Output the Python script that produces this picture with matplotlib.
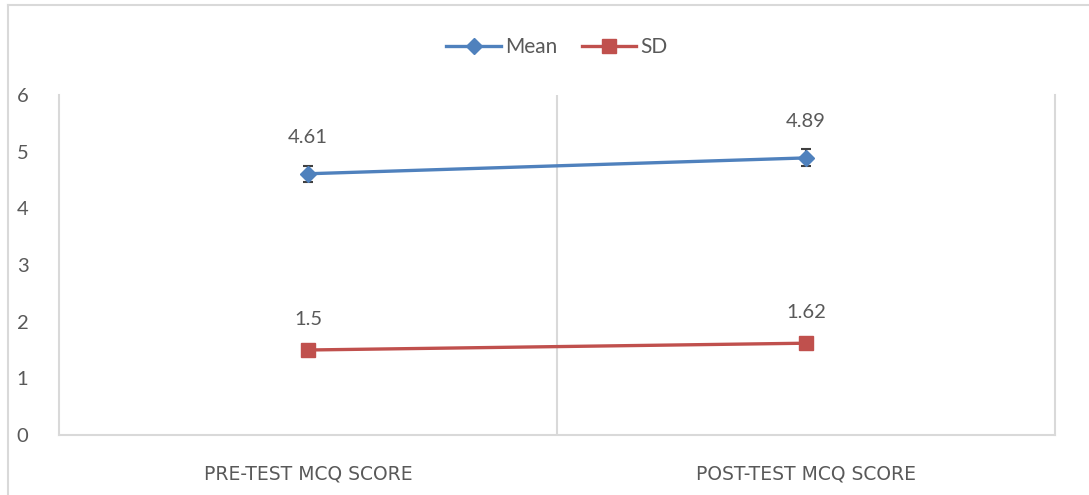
import numpy as np
import matplotlib
matplotlib.use("Agg")
import matplotlib.pyplot as plt
from matplotlib.lines import Line2D

# data
categories = ["PRE-TEST MCQ SCORE", "POST-TEST MCQ SCORE"]
mean_vals = [4.61, 4.89]
sd_vals = [1.5, 1.62]
mean_err = [0.14, 0.15]

plt.rcParams['font.family'] = ['Lato', 'DejaVu Sans']

fig = plt.figure(figsize=(10.89, 4.95), dpi=100)
ax = fig.add_axes([59/1089, 1-435/495, (1055-59)/1089, (435-95)/495])

x = np.arange(len(categories))
blue = "#4F81BD"
red = "#C0504D"
txt = "#595959"
grid = "#D9D9D9"

ax.plot(x, mean_vals, color=blue, linewidth=2.4, marker="D", markersize=8, label="Mean", zorder=3)
ax.errorbar(x, mean_vals, yerr=mean_err, fmt="none", ecolor="#404040", elinewidth=1.5, capsize=3.5, capthick=1.5, zorder=2)
ax.plot(x, sd_vals, color=red, linewidth=2.4, marker="s", markersize=10, label="SD", zorder=3)

# data labels
for xi, v in zip(x, mean_vals):
    ax.annotate("%g" % v, (xi, v), xytext=(0, 20), textcoords="offset points",
                ha="center", va="bottom", fontsize=14.5, color=txt)
for xi, v in zip(x, sd_vals):
    ax.annotate("%g" % v, (xi, v), xytext=(0, 16), textcoords="offset points",
                ha="center", va="bottom", fontsize=14.5, color=txt)

ax.set_xlim(-0.5, 1.5)
ax.set_ylim(0, 6)
ax.set_yticks(range(0, 7))
ax.set_xticks(x)
ax.set_xticklabels(categories, fontsize=13.5, color=txt, family="DejaVu Sans")
ax.tick_params(axis="y", length=0, pad=22, labelsize=14.5, labelcolor=txt)
ax.tick_params(axis="x", length=0, pad=21)

# category separator gridline
ax.axvline(0.5, color=grid, linewidth=1.5, zorder=1)
for s in ["left", "right", "bottom"]:
    ax.spines[s].set_color(grid)
    ax.spines[s].set_linewidth(1.5)
ax.spines["top"].set_visible(False)

ax.legend(loc="upper center", bbox_to_anchor=(0.5, 1.225), ncol=2, frameon=False,
          fontsize=15, labelcolor=txt, handlelength=2.6, handletextpad=0.2, columnspacing=1.2)

# outer chart border
fig.add_artist(Line2D([8/1089, 8/1089], [0, 1-5/495], color=grid, linewidth=1.5, transform=fig.transFigure))
fig.add_artist(Line2D([8/1089, 1], [1-5/495, 1-5/495], color=grid, linewidth=1.5, transform=fig.transFigure))

fig.savefig("out.png", dpi=100)
